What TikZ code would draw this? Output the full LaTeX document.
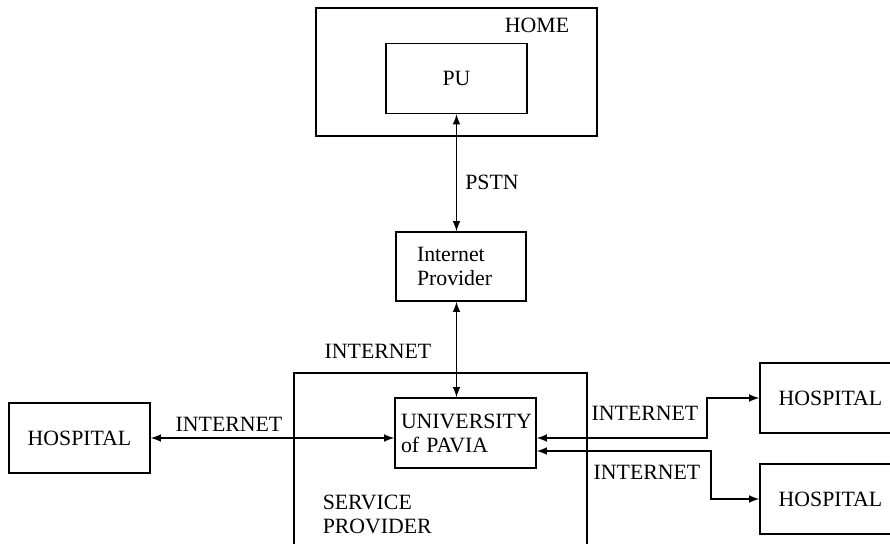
\documentclass[tikz,border=0pt]{standalone}
\usepackage{fontspec}
\setmainfont{Liberation Serif}
\usetikzlibrary{arrows,shapes}
\usetikzlibrary{calc}
\tikzstyle{box}=[rectangle,draw,minimum width=70.5pt,minimum height=35pt,inner sep=0pt]
\tikzstyle{bigbox}=[rectangle,draw,inner sep=0pt]
\tikzstyle{link} = [draw,<->,>=latex]
\tikzstyle{lbl} = [inner sep=0pt]

\begin{document}
\begin{tikzpicture}[x=0.5pt,y=-0.5pt,line width=0.75pt,font=\fontsize{10.9}{12}\selectfont]

	\useasboundingbox (0,0) rectangle (890,543);

%outer boxes
    \node[bigbox,minimum width=140.5pt,minimum height=64pt] (home) at (456.5,72) {};
    \node[bigbox,minimum width=146.5pt,minimum height=90pt] (sp) at (440.5,463) {};

%inner boxes
    \node[box] (pu) at (456.5,78.5) {PU};
    \node[box,minimum width=65pt,minimum height=34.5pt,text width=44pt,inner xsep=10.5pt,align=left] (ip) at (461,266.5) {Internet\\Provider};
    \node[box,text width=64.5pt,inner xsep=3pt,align=left] (univ) at (465.5,433) {UNIVERSITY\\of PAVIA};

%hospitals
    \foreach \pos/\name in {{(79.5,438)/hosL}, {(830.5,398)/hosA}, {(830.5,499)/hosB}}
        \node[box] (\name) at \pos {HOSPITAL};

%labels
    \node[lbl] (homelbl) at (537,25) {HOME};
    \node[lbl] (pstn) at (492,182) {PSTN};
    \node[lbl,anchor=west,align=left] (splbl) at (322,514.5) {SERVICE\\PROVIDER};
    \foreach \pos/\name in {{(378,351)/netT}, {(229,424)/netL}, {(645,413)/netA}, {(647,472)/netB}}
        \node[lbl] (\name) at \pos {INTERNET};

    % Connect boxes
    \path[link] (pu.south) -- (pu.south |- ip.north);
    \path[link] (ip.south -| pu.south) -- (univ.north -| pu.south);
    \path[link] (hosL.east) -- (hosL.east -| univ.west);
    \path[link] ([yshift=-2.5pt]univ.east) -- ++(170,0) |- (hosA.west);
    \path[link] ([yshift=-9pt]univ.east) -- ++(174,0) |- (hosB.west);

\end{tikzpicture}
\end{document}
